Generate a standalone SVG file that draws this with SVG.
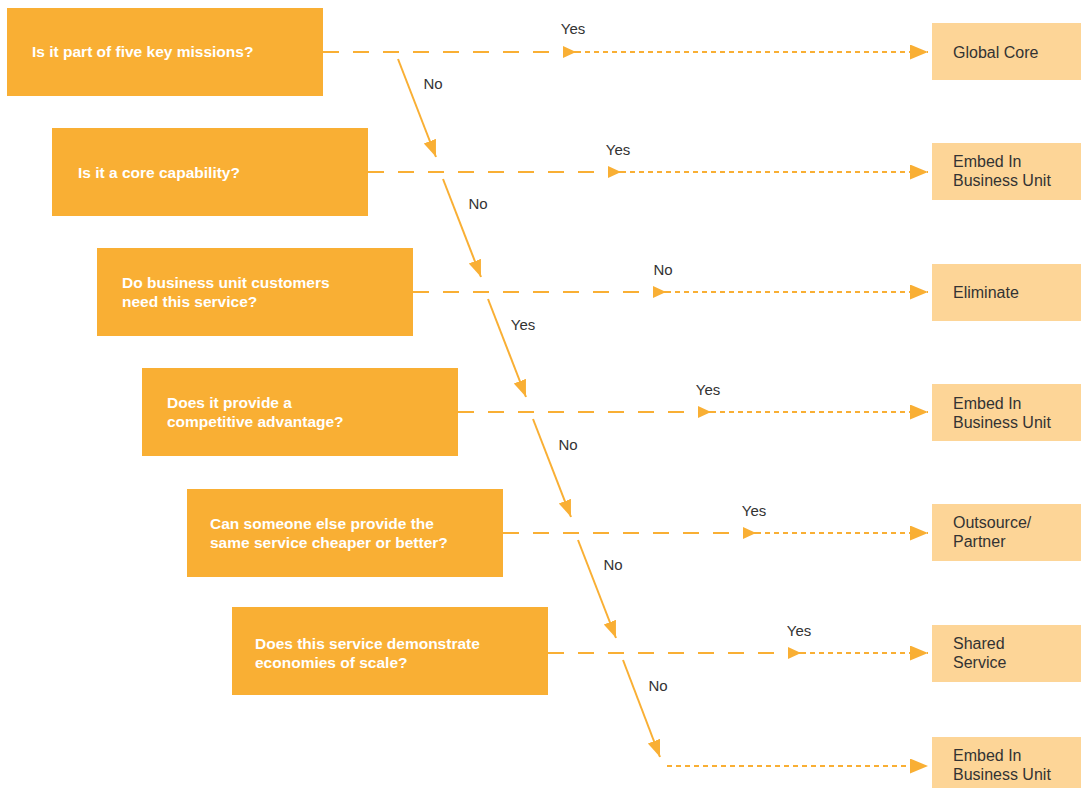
<svg xmlns="http://www.w3.org/2000/svg" width="1081" height="788" viewBox="0 0 1081 788">
<style>
.q{fill:#F9AF34}
.r{fill:#FDD597}
.qt{font-family:"Liberation Sans",Arial,sans-serif;font-weight:bold;font-size:15.5px;fill:#FFFFFF}
.rt{font-family:"Liberation Sans",Arial,sans-serif;font-size:16px;fill:#333333}
.lb{font-family:"Liberation Sans",Arial,sans-serif;font-size:15px;fill:#333333;text-anchor:middle}
.long{stroke:#F9AF34;stroke-width:2;fill:none;stroke-dasharray:16 14}
.short{stroke:#F9AF34;stroke-width:2;fill:none;stroke-dasharray:5 4}
.diag{stroke:#F9AF34;stroke-width:2;fill:none}
</style>
<defs>
<marker id="mid" markerUnits="userSpaceOnUse" markerWidth="14" markerHeight="13" refX="13" refY="6" orient="auto"><path d="M0,0 L13,6 L0,12 z" fill="#F9AF34"/></marker>
<marker id="end" markerUnits="userSpaceOnUse" markerWidth="19" markerHeight="16" refX="18" refY="7.5" orient="auto"><path d="M0,0 L18,7.5 L0,15 z" fill="#F9AF34"/></marker>
<marker id="dg" markerUnits="userSpaceOnUse" markerWidth="18" markerHeight="14" refX="17" refY="6.5" orient="auto"><path d="M0,0 L17,6.5 L0,13 z" fill="#F9AF34"/></marker>
</defs>

<g id="connectors">
<line class="long" x1="323" y1="52" x2="576" y2="52" marker-end="url(#mid)"/>
<line class="short" x1="576" y1="52" x2="928" y2="52" marker-end="url(#end)"/>
<line class="long" x1="368" y1="172" x2="621" y2="172" marker-end="url(#mid)"/>
<line class="short" x1="621" y1="172" x2="928" y2="172" marker-end="url(#end)"/>
<line class="long" x1="413" y1="292" x2="666" y2="292" marker-end="url(#mid)"/>
<line class="short" x1="666" y1="292" x2="928" y2="292" marker-end="url(#end)"/>
<line class="long" x1="458" y1="412" x2="711" y2="412" marker-end="url(#mid)"/>
<line class="short" x1="711" y1="412" x2="928" y2="412" marker-end="url(#end)"/>
<line class="long" x1="503" y1="533" x2="756" y2="533" marker-end="url(#mid)"/>
<line class="short" x1="756" y1="533" x2="928" y2="533" marker-end="url(#end)"/>
<line class="long" x1="548" y1="653" x2="801" y2="653" marker-end="url(#mid)"/>
<line class="short" x1="801" y1="653" x2="928" y2="653" marker-end="url(#end)"/>
<line class="short" x1="667" y1="766" x2="928" y2="766" marker-end="url(#end)"/>

<line class="diag" x1="398" y1="59" x2="436" y2="157" marker-end="url(#dg)"/>
<line class="diag" x1="443" y1="179" x2="481" y2="277" marker-end="url(#dg)"/>
<line class="diag" x1="488" y1="299" x2="526" y2="397" marker-end="url(#dg)"/>
<line class="diag" x1="533" y1="419" x2="571" y2="517" marker-end="url(#dg)"/>
<line class="diag" x1="578" y1="540" x2="616" y2="638" marker-end="url(#dg)"/>
<line class="diag" x1="623" y1="660" x2="660" y2="757" marker-end="url(#dg)"/>

<text class="lb" x="573" y="34">Yes</text>
<text class="lb" x="618" y="155">Yes</text>
<text class="lb" x="663" y="275">No</text>
<text class="lb" x="708" y="395">Yes</text>
<text class="lb" x="754" y="516">Yes</text>
<text class="lb" x="799" y="636">Yes</text>
<text class="lb" x="433" y="89">No</text>
<text class="lb" x="478" y="209">No</text>
<text class="lb" x="523" y="330">Yes</text>
<text class="lb" x="568" y="450">No</text>
<text class="lb" x="613" y="570">No</text>
<text class="lb" x="658" y="691">No</text>
</g>

<g id="q1"><rect class="q" x="7" y="8" width="316" height="88"/><text class="qt" x="32" y="57">Is it part of five key missions?</text></g>
<g id="q2"><rect class="q" x="52" y="128" width="316" height="88"/><text class="qt" x="78" y="178">Is it a core capability?</text></g>
<g id="q3"><rect class="q" x="97" y="248" width="316" height="88"/><text class="qt" x="122" y="288">Do business unit customers</text><text class="qt" x="122" y="307">need this service?</text></g>
<g id="q4"><rect class="q" x="142" y="368" width="316" height="88"/><text class="qt" x="167" y="408">Does it provide a</text><text class="qt" x="167" y="427">competitive advantage?</text></g>
<g id="q5"><rect class="q" x="187" y="489" width="316" height="88"/><text class="qt" x="210" y="529">Can someone else provide the</text><text class="qt" x="210" y="548">same service cheaper or better?</text></g>
<g id="q6"><rect class="q" x="232" y="607" width="316" height="88"/><text class="qt" x="255" y="649">Does this service demonstrate</text><text class="qt" x="255" y="668">economies of scale?</text></g>

<g id="r1"><rect class="r" x="932" y="23" width="149" height="57"/><text class="rt" x="953" y="58">Global Core</text></g>
<g id="r2"><rect class="r" x="932" y="143" width="149" height="57"/><text class="rt" x="953" y="167">Embed In</text><text class="rt" x="953" y="186">Business Unit</text></g>
<g id="r3"><rect class="r" x="932" y="264" width="149" height="57"/><text class="rt" x="953" y="298">Eliminate</text></g>
<g id="r4"><rect class="r" x="932" y="384" width="149" height="57"/><text class="rt" x="953" y="409">Embed In</text><text class="rt" x="953" y="428">Business Unit</text></g>
<g id="r5"><rect class="r" x="932" y="504" width="149" height="57"/><text class="rt" x="953" y="528">Outsource/</text><text class="rt" x="953" y="547">Partner</text></g>
<g id="r6"><rect class="r" x="932" y="625" width="149" height="57"/><text class="rt" x="953" y="649">Shared</text><text class="rt" x="953" y="668">Service</text></g>
<g id="r7"><rect class="r" x="932" y="737" width="149" height="57"/><text class="rt" x="953" y="761">Embed In</text><text class="rt" x="953" y="780">Business Unit</text></g>
</svg>
